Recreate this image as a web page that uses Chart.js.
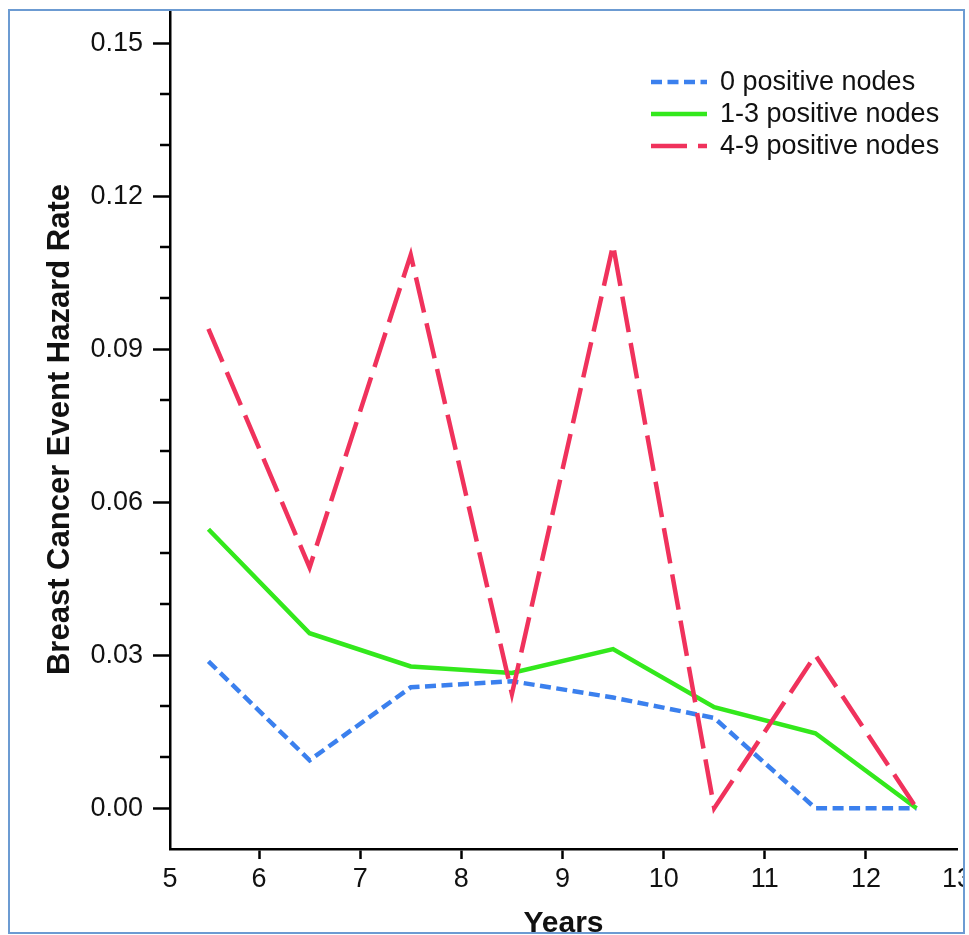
<!DOCTYPE html>
<html>
<head>
<meta charset="utf-8">
<script src="https://cdn.jsdelivr.net/npm/chart.js@4.4.1/dist/chart.umd.min.js"></script>
<style>
  html, body { margin: 0; padding: 0; background: #fff; overflow: hidden; width: 969px; height: 935px; }
  #chart { position: absolute; left: 0; top: 0; }
  #frame {
    position: absolute; left: 8px; top: 9px; width: 957px; height: 925px;
    box-sizing: border-box; border: 2px solid #6c9bd2;
    box-shadow: 0 0 0 80px #fff; pointer-events: none;
  }
</style>
</head>
<body>
<canvas id="chart" width="1000" height="960"></canvas>
<div id="frame"></div>
<script>
// Follow-up years (interval midpoints)
const years = [5.5, 6.5, 7.5, 8.5, 9.5, 10.5, 11.5, 12.5];

// Hazard rate by nodal status
const zeroNodes       = [0.0288, 0.0094, 0.0237, 0.0249, 0.0217, 0.0177, 0.0000, 0.0000];
const oneToThreeNodes = [0.0547, 0.0343, 0.0278, 0.0265, 0.0312, 0.0198, 0.0147, 0.0000];
const fourToNineNodes = [0.0940, 0.0472, 0.1085, 0.0224, 0.1104, 0.0000, 0.0300, 0.0000];

const seriesLabels = ['0 positive nodes', '1-3 positive nodes', '4-9 positive nodes'];

// Axis ticks
const xTickValues = [5, 6, 7, 8, 9, 10, 11, 12, 13];
const xTickLabels = ['5', '6', '7', '8', '9', '10', '11', '12', '13'];
const yMajorTicks = [0.00, 0.03, 0.06, 0.09, 0.12, 0.15];
const yMinorTicks = [0.01, 0.02, 0.04, 0.05, 0.07, 0.08, 0.10, 0.11, 0.13, 0.14];

const FONT = '"Liberation Sans", Arial, Helvetica, sans-serif';

const toPoints = (vals) => vals.map((v, i) => ({ x: years[i], y: v }));

// Shorter unlabeled ticks between the labelled ones
const minorTicks = {
  id: 'minorTicks',
  afterDraw(chart) {
    const y = chart.scales.y;
    const ctx = chart.ctx;
    const x0 = chart.chartArea.left;
    ctx.save();
    ctx.strokeStyle = '#000';
    ctx.lineWidth = 2.5;
    yMinorTicks.forEach(v => {
      const py = Math.round(y.getPixelForValue(v));
      ctx.beginPath();
      ctx.moveTo(x0 - 10, py);
      ctx.lineTo(x0, py);
      ctx.stroke();
    });
    ctx.restore();
  }
};

// Legend inside the plot, top-right, with dashed line samples
const lineLegend = {
  id: 'lineLegend',
  afterDraw(chart) {
    const ctx = chart.ctx;
    const area = chart.chartArea;
    const sx = area.right - 306;
    const sampleLen = 56;
    const tx = sx + 69;
    const y0 = area.top + 72;
    const step = 32;
    ctx.save();
    ctx.font = '27px ' + FONT;
    ctx.textBaseline = 'middle';
    ctx.textAlign = 'left';
    chart.data.datasets.forEach((ds, i) => {
      const yy = y0 + i * step;
      ctx.strokeStyle = ds.borderColor;
      ctx.lineWidth = ds.borderWidth;
      ctx.setLineDash(ds.borderDash || []);
      ctx.lineCap = 'butt';
      ctx.beginPath();
      ctx.moveTo(sx, yy);
      ctx.lineTo(sx + sampleLen, yy);
      ctx.stroke();
      ctx.setLineDash([]);
      ctx.fillStyle = '#111';
      ctx.fillText(ds.label, tx, yy + 1);
    });
    ctx.restore();
  }
};

new Chart(document.getElementById('chart'), {
  type: 'line',
  data: {
    datasets: [
      {
        label: seriesLabels[0],
        data: toPoints(zeroNodes),
        borderColor: '#3b80ee',
        borderWidth: 4.5,
        borderDash: [11, 5.5],
        pointRadius: 0,
        tension: 0,
        order: 2
      },
      {
        label: seriesLabels[1],
        data: toPoints(oneToThreeNodes),
        borderColor: '#33e81c',
        borderWidth: 4.5,
        pointRadius: 0,
        tension: 0,
        order: 1
      },
      {
        label: seriesLabels[2],
        data: toPoints(fourToNineNodes),
        borderColor: '#f0325c',
        borderWidth: 4.5,
        borderDash: [36, 11],
        pointRadius: 0,
        tension: 0,
        order: 0
      }
    ]
  },
  options: {
    responsive: false,
    animation: false,
    devicePixelRatio: 1,
    layout: { padding: { left: 0, top: 10, right: 43, bottom: 0 } },
    plugins: {
      legend: { display: false },
      tooltip: { enabled: false }
    },
    scales: {
      x: {
        type: 'linear',
        min: 5.12,
        max: 12.9,
        afterBuildTicks(scale) {
          scale.ticks = xTickValues.map(v => ({ value: Math.min(Math.max(v, scale.min), scale.max) }));
        },
        afterFit(scale) {
          scale.height = 111;
          scale.paddingLeft = 0;
          scale.paddingRight = 0;
        },
        border: { display: true, color: '#000', width: 2.5 },
        grid: {
          drawOnChartArea: false,
          drawTicks: true,
          tickLength: 10,
          tickWidth: 2.5,
          tickColor: (c) => (c.index === 0 || c.index === xTickValues.length - 1) ? 'rgba(0,0,0,0)' : '#000'
        },
        ticks: {
          autoSkip: false,
          maxRotation: 0,
          padding: 4,
          color: '#111',
          font: { family: FONT, size: 27 },
          callback: (v, i) => xTickLabels[i]
        },
        title: {
          display: true,
          text: 'Years',
          color: '#111',
          font: { family: FONT, size: 30, weight: 'bold' },
          padding: { top: 0, bottom: 18 }
        }
      },
      y: {
        type: 'linear',
        min: -0.008,
        max: 0.1565,
        afterBuildTicks(scale) {
          scale.ticks = yMajorTicks.map(v => ({ value: v }));
        },
        afterFit(scale) {
          scale.width = 170;
          scale.paddingTop = 0;
          scale.paddingBottom = 0;
        },
        border: { display: true, color: '#000', width: 2.5 },
        grid: {
          drawOnChartArea: false,
          drawTicks: true,
          tickLength: 17,
          tickWidth: 2.5,
          tickColor: '#000'
        },
        ticks: {
          padding: 10,
          color: '#111',
          font: { family: FONT, size: 27 },
          callback: (v) => Number(v).toFixed(2)
        },
        title: {
          display: true,
          text: 'Breast Cancer Event Hazard Rate',
          color: '#111',
          font: { family: FONT, size: 31, weight: 'bold' },
          padding: { top: 42, bottom: 0 }
        }
      }
    }
  },
  plugins: [minorTicks, lineLegend]
});
</script>
</body>
</html>
